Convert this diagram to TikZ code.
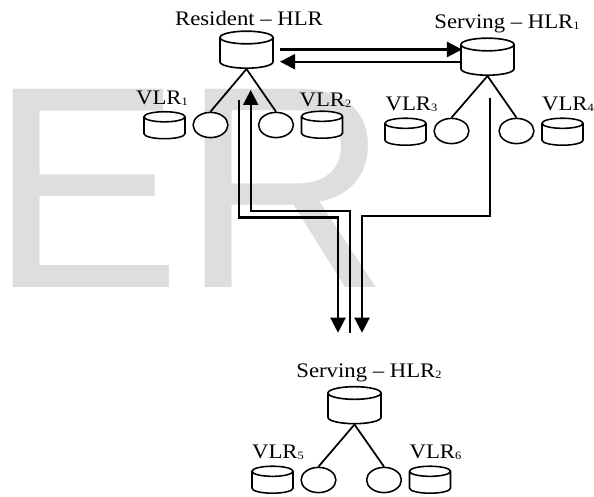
\documentclass[tikz,border=0pt]{standalone}
\usepackage{fontspec}
\setmainfont[FakeStretch=1.1]{Liberation Serif}
\newfontfamily\markfont{Liberation Sans}
\usetikzlibrary{arrows.meta,shapes.geometric}
\definecolor{markgray}{HTML}{DEDEDE}
\newcommand{\lowidx}[1]{\raisebox{-0.6pt}{\fontsize{8}{8}\selectfont #1}}

\tikzset{
  hlrdb/.style={draw=black,fill=white,line width=1.15pt,cylinder,shape border rotate=90,shape aspect=3,inner sep=1.5pt,anchor=south,minimum width=1.325cm,minimum height=0.925cm},
  vlrdb/.style={draw=black,fill=white,line width=1.1pt,cylinder,shape border rotate=90,shape aspect=3,inner sep=1.2pt,anchor=south,minimum width=1.025cm,minimum height=0.675cm},
  vlrnode/.style={draw=black,fill=white,line width=1.1pt,ellipse,inner sep=0pt,minimum width=0.87cm,minimum height=0.63cm},
  dblabel/.style={anchor=base,inner sep=0pt,font=\fontsize{14.7}{18}\selectfont},
  branch/.style={line width=1.25pt},
  route/.style={line width=1.6pt,-{Triangle[length=3.75mm,width=3.75mm]}}
}

\begin{document}
\begin{tikzpicture}[x=0.025cm,y=-0.025cm]
\useasboundingbox (0,0) rectangle (594,497);
\node[anchor=base west,inner sep=0pt,text=markgray,font=\markfont\fontsize{205}{205}\selectfont] (mark) at (-11,288) {ER};

% resident network
\node[hlrdb] (hlr_res) at (246.5,69) {};
\node[dblabel] (lab_res) at (249,26) {Resident -- HLR};
\node[vlrdb] (vlr_a) at (164.5,139.5) {};
\node[vlrnode] (msc_a) at (210.5,125) {};
\node[vlrnode] (msc_b) at (276,125) {};
\node[vlrdb] (vlr_b) at (322,139) {};
\node[dblabel] (lab_a) at (162,105) {VLR\lowidx{1}};
\node[dblabel] (lab_b) at (325.5,107) {VLR\lowidx{2}};
\draw[branch] (hlr_res.south)--(msc_a.north);
\draw[branch] (hlr_res.south)--(msc_b.north);

% first serving network
\node[hlrdb] (hlr_one) at (487.5,76) {};
\node[dblabel] (lab_one) at (507,29) {Serving -- HLR\lowidx{1}};
\node[vlrdb] (vlr_c) at (405.5,146) {};
\node[vlrnode] (msc_c) at (451.5,131) {};
\node[vlrnode] (msc_d) at (516.5,131) {};
\node[vlrdb] (vlr_d) at (562.5,146) {};
\node[dblabel] (lab_c) at (411.5,111) {VLR\lowidx{3}};
\node[dblabel] (lab_d) at (568,111) {VLR\lowidx{4}};
\draw[branch] (hlr_one.south)--(msc_c.north);
\draw[branch] (hlr_one.south)--(msc_d.north);

% second serving network
\node[hlrdb] (hlr_two) at (354.5,424.5) {};
\node[dblabel] (lab_two) at (369,378) {Serving -- HLR\lowidx{2}};
\node[vlrdb] (vlr_e) at (272.5,494) {};
\node[vlrnode] (msc_e) at (318.5,480) {};
\node[vlrnode] (msc_f) at (384,480) {};
\node[vlrdb] (vlr_f) at (430,494) {};
\node[dblabel] (lab_e) at (278,459) {VLR\lowidx{5}};
\node[dblabel] (lab_f) at (435.5,459) {VLR\lowidx{6}};
\draw[branch] (hlr_two.south)--(msc_e.north);
\draw[branch] (hlr_two.south)--(msc_f.north);

% routes between the networks
\coordinate (top_a) at (280,49.5);
\coordinate (top_b) at (462,49.5);
\coordinate (low_a) at (280,61.7);
\coordinate (low_b) at (462,61.7);
\draw[route] (top_a)--(top_b);
\draw[route] (low_b)--(low_a);

\coordinate (up_tip) at (250.7,90);
\coordinate (up_foot) at (350,332.7);
\draw[route] (up_foot)--(350,211)--(250.7,211)--(up_tip);

\coordinate (res_start) at (239,100);
\coordinate (res_tip) at (338,332.7);
\draw[route] (res_start)--(239,217.5)--(338,217.5)--(res_tip);

\coordinate (one_start) at (490,98);
\coordinate (one_tip) at (362,332.7);
\draw[route] (one_start)--(490,215.7)--(362,215.7)--(one_tip);
\end{tikzpicture}
\end{document}
